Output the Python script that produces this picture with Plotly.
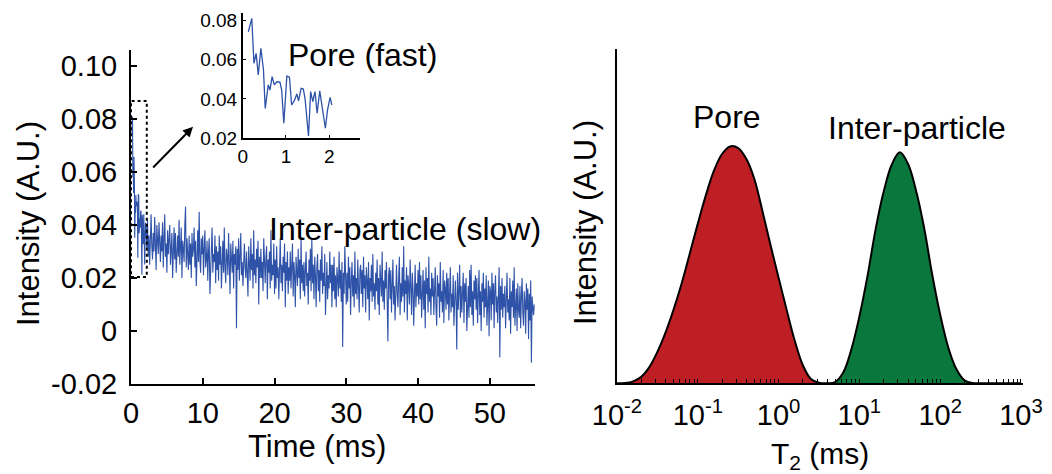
import numpy as np
import plotly.graph_objects as go

W, H = 1052, 474

# ---------------- data ----------------
# early (pore, fast) part of the decay
pore_t = [0.13, 0.21, 0.26, 0.31, 0.36, 0.42, 0.48, 0.52, 0.59, 0.63, 0.68, 0.73,
          0.79, 0.86, 0.90, 0.95, 1.02, 1.08, 1.13, 1.19, 1.25, 1.29, 1.35, 1.40,
          1.44, 1.52, 1.57, 1.62, 1.67, 1.72, 1.78, 1.85, 1.91, 1.96, 2.02, 2.06]
pore_v = [0.0741, 0.0809, 0.0581, 0.0631, 0.0521, 0.0657, 0.0547, 0.0352, 0.0471,
          0.0445, 0.0513, 0.0471, 0.0487, 0.0485, 0.0445, 0.0276, 0.0516, 0.0510,
          0.0369, 0.0390, 0.0425, 0.0390, 0.0454, 0.0450, 0.0402, 0.0212, 0.0437,
          0.0386, 0.0437, 0.0327, 0.0441, 0.0344, 0.0251, 0.0344, 0.0408, 0.0369]

# slow (inter-particle) part, one sample per 0.1 ms from 2.1 ms, in units of 0.001
slow_start, slow_step = 2.1, 0.1
slow_v_milli = [
    39, 31, 42, 28, 36, 25, 38, 44, 32, 27, 37, 30, 43, 33, 23, 40, 35, 29, 41, 31,
    26, 36, 30, 41, 24, 35, 44, 28, 33, 22, 38, 29, 34, 40, 25, 31, 37, 20, 35, 39,
    27, 37, 22, 33, 36, 28, 42, 25, 30, 39, 20, 34, 31, 26, 40, 47, 24, 35, 29, 23,
    36, 25, 33, 20, 37, 28, 31, 39, 24, 34, 17, 32, 38, 26, 45, 27, 22, 35, 29, 36,
    21, 31, 38, 24, 27, 34, 19, 30, 35, 14, 25, 33, 39, 22, 29, 26, 36, 18, 32, 23,
    30, 19, 36, 25, 32, 16, 28, 34, 22, 39, 24, 18, 31, 28, 21, 37, 26, 14, 33, 29,
    22, 34, 16, 29, 25, 32, 1, 31, 23, 35, 19, 28, 37, 21, 26, 17, 30, 33, 24, 20,
    30, 22, 13, 32, 26, 19, 35, 23, 29, 16, 38, 21, 27, 18, 31, 24, 34, 10, 28, 20,
    31, 20, 26, 15, 35, 23, 18, 28, 32, 12, 27, 22, 30, 16, 38, 19, 25, 21, 33, 14,
    27, 16, 32, 20, 24, 12, 29, 35, 18, 25, 15, 28, 22, 33, 9, 26, 19, 30, 14, 24,
    19, 30, 16, 24, 33, 13, 26, 21, 9, 28, 23, 17, 31, 20, 27, 12, 35, 18, 25, 15,
    26, 13, 23, 30, 17, 22, 10, 27, 19, 31, 15, 35, 18, 25, 12, 28, 21, 9, 24, 29,
    15, 23, 11, 27, 19, 32, 14, 22, 17, 29, 6, 24, 26, 12, 21, 16, 30, 18, 25, 9,
    25, 15, 28, 12, 21, 9, 24, 20, 13, 30, 16, 23, 11, 26, -6, 22, 14, 32, 17, 10,
    22, 11, 28, 16, 24, 6, 19, 26, 13, 21, 9, 30, 14, 20, 12, 27, 17, 7, 23, 25,
    14, 23, 9, 28, 16, 21, 7, 24, 19, 12, 26, 4, 20, 15, 25, 11, 29, 13, 18, 8,
    22, 15, 27, 10, 20, 6, 25, 18, 13, 30, 11, 19, 8, 23, 16, 26, 12, -4, 21, 24,
    12, 23, 7, 19, 27, 10, 17, 4, 21, 25, 14, 9, 20, 28, 6, 18, 11, 24, 13, 32,
    7, 19, 14, 24, 4, 21, 17, 10, 27, 12, 6, 22, 16, 2, 20, 25, 9, 18, 13, 23,
    10, 26, 12, 21, 5, 17, 23, 8, 19, 1, 24, 14, 20, 7, 28, 11, 16, 6, 22, 13,
    20, 6, 17, 24, 9, 2, 21, 13, 18, 5, 26, 11, 15, 7, 23, 3, 19, 16, 8, 22,
    10, 20, 4, 17, 24, 7, 14, 9, 21, 2, 16, 19, 11, -7, 22, 8, 15, 25, 5, 17,
    7, 16, 22, 3, 18, 11, 20, 0, 14, 17, 5, 23, 9, 25, 6, 15, 2, 19, 12, 21,
    8, 20, 3, 14, 23, 6, 15, 0, 18, 11, 22, 5, 16, 9, 21, 2, 13, 19, -2, 17,
    15, 4, 22, 10, 18, 1, 16, 21, 7, 13, 3, 19, 24, -10, 17, 8, 20, 5, 14, 9,
    17, 1, 14, 22, 7, 12, 4, 20, -1, 15, 9, 19, 5, 24, 2, 13, 16, 0, 18, 8,
    5, 17, 1, 13, 20, 7, 2, 15, 11, -1, 18, 8, 16, -3, 14, 4, 19, -12, 13, 9,
    6, 10,
]

# T2 distribution (log10 T2 grid from -2.0 to 3.0, step 0.1)
log_t2_start, log_t2_step = -2.0, 0.1
pore_dist = [0.0, 0.001, 0.008, 0.027, 0.068, 0.132, 0.213, 0.31, 0.42, 0.545,
             0.672, 0.792, 0.895, 0.965, 0.997, 0.99, 0.945, 0.86, 0.725, 0.582,
             0.444, 0.309, 0.179, 0.076, 0.018, 0.002,
             0, 0, 0, 0, 0, 0, 0, 0, 0, 0, 0, 0, 0, 0, 0, 0, 0, 0, 0, 0, 0, 0, 0, 0, 0]
inter_dist = [0, 0, 0, 0, 0, 0, 0, 0, 0, 0, 0, 0, 0, 0, 0, 0, 0, 0, 0, 0, 0, 0, 0, 0, 0, 0,
              0.0, 0.005, 0.045, 0.142, 0.281, 0.451, 0.647, 0.806, 0.92, 0.972,
              0.925, 0.813, 0.657, 0.46, 0.289, 0.151, 0.06, 0.013, 0.001,
              0, 0, 0, 0, 0, 0]

left_yticks = [-0.02, 0, 0.02, 0.04, 0.06, 0.08, 0.10]
left_yticktext = ["-0.02", "0", "0.02", "0.04", "0.06", "0.08", "0.10"]
left_xticks = [0, 10, 20, 30, 40, 50]
inset_yticks = [0.02, 0.04, 0.06, 0.08]
inset_yticktext = ["0.02", "0.04", "0.06", "0.08"]
inset_xticks = [0, 1, 2]
right_major_ticks = [0.01, 0.1, 1, 10, 100, 1000]
right_major_text = ["10<sup>-2</sup>", "10<sup>-1</sup>", "10<sup>0</sup>",
                    "10<sup>1</sup>", "10<sup>2</sup>", "10<sup>3</sup>"]
right_minor_mult = [2, 3, 4, 5, 6, 7, 8, 9]

# ---------------- derived ----------------
slow_t = [round(slow_start + slow_step * i, 2) for i in range(len(slow_v_milli))]
slow_v = [v * 0.001 for v in slow_v_milli]
all_t = pore_t + slow_t
all_v = pore_v + slow_v

t2 = [10 ** (log_t2_start + log_t2_step * i) for i in range(len(pore_dist))]
total = [a + b for a, b in zip(pore_dist, inter_dist)]

right_tickvals = list(right_major_ticks)
right_ticktext = list(right_major_text)
for d in right_major_ticks[:-1]:
    for m in right_minor_mult:
        right_tickvals.append(d * m)
        right_ticktext.append("")

BLUE = "#2E52A8"
RED = "#BD1F25"
GREEN = "#0A773C"
FONT = "Liberation Sans, Arial, sans-serif"

def px_x(p):
    return p / W

def px_y(p):
    return 1 - p / H

fig = go.Figure()

fig.add_trace(go.Scatter(x=all_t, y=all_v, mode="lines",
                         line=dict(color=BLUE, width=1.1), xaxis="x", yaxis="y"))
fig.add_trace(go.Scatter(x=pore_t, y=pore_v, mode="lines",
                         line=dict(color=BLUE, width=1.3), xaxis="x2", yaxis="y2"))
fig.add_trace(go.Scatter(x=t2, y=pore_dist, mode="lines", fill="tozeroy",
                         fillcolor=RED, line=dict(width=0, shape="spline", smoothing=1.0),
                         xaxis="x3", yaxis="y3"))
fig.add_trace(go.Scatter(x=t2, y=inter_dist, mode="lines", fill="tozeroy",
                         fillcolor=GREEN, line=dict(width=0, shape="spline", smoothing=1.0),
                         xaxis="x3", yaxis="y3"))
fig.add_trace(go.Scatter(x=t2, y=total, mode="lines",
                         line=dict(color="black", width=2, shape="spline", smoothing=1.0),
                         xaxis="x3", yaxis="y3"))

axis_common = dict(showline=True, linecolor="black", showgrid=False, zeroline=False,
                   ticks="inside", tickcolor="black", mirror=False, automargin=False)

fig.update_layout(
    width=W, height=H, margin=dict(l=0, r=0, t=0, b=0, autoexpand=False),
    paper_bgcolor="white", plot_bgcolor="rgba(0,0,0,0)", showlegend=False,
    font=dict(family=FONT, color="black"),
    xaxis=dict(axis_common, domain=[px_x(131), px_x(535)], range=[0, 56.3],
               tickvals=left_xticks, linewidth=2, ticklen=6, tickwidth=1.5,
               tickfont=dict(size=29), anchor="y", ticklabelstandoff=2),
    yaxis=dict(axis_common, domain=[px_y(384), px_y(50)], range=[-0.02, 0.106],
               tickvals=left_yticks, ticktext=left_yticktext, linewidth=2,
               ticklen=6, tickwidth=1.5, tickfont=dict(size=29), anchor="x",
               ticklabelstandoff=6),
    xaxis2=dict(axis_common, domain=[px_x(242.7), px_x(360)], range=[0, 2.71],
                tickvals=inset_xticks, linewidth=1.5, ticklen=4,
                tickfont=dict(size=19), anchor="y2"),
    yaxis2=dict(axis_common, domain=[px_y(138.3), px_y(13)], range=[0.02, 0.0836],
                tickvals=inset_yticks, ticktext=inset_yticktext, linewidth=1.5,
                ticklen=4, tickfont=dict(size=19), anchor="x2"),
    xaxis3=dict(axis_common, type="log", domain=[px_x(617), px_x(1023)],
                range=[-2.0, 3.025], tickvals=right_tickvals, ticktext=right_ticktext,
                linewidth=2, ticklen=4, tickwidth=1.2, tickfont=dict(size=29),
                anchor="y3", ticklabelstandoff=5),
    yaxis3=dict(showline=True, linecolor="black", linewidth=2, showgrid=False,
                zeroline=False, ticks="", showticklabels=False, automargin=False,
                domain=[px_y(383.3), px_y(49)], range=[0, 1.407], anchor="x3"),
)

# dotted box around the fast part
fig.add_shape(type="rect", xref="x", yref="y", x0=0, x1=2.2, y0=0.0204, y1=0.0868,
              line=dict(color="black", width=2, dash="dot"))

annotations = [
    dict(x=8.64, y=0.077, ax=2.88, ay=0.0611, xref="x", yref="y", axref="x", ayref="y",
         text="", showarrow=True, arrowhead=2, arrowsize=1, arrowwidth=2,
         arrowcolor="black"),
    dict(x=px_x(362), y=px_y(55), text="Pore (fast)", font=dict(size=32)),
    dict(x=px_x(405), y=px_y(229), text="Inter-particle (slow)", font=dict(size=32)),
    dict(x=px_x(727), y=px_y(117), text="Pore", font=dict(size=32)),
    dict(x=px_x(917), y=px_y(128), text="Inter-particle", font=dict(size=32)),
    dict(x=px_x(317), y=px_y(446), text="Time (ms)", font=dict(size=31)),
    dict(x=px_x(820), y=px_y(455), text="T<sub>2</sub> (ms)", font=dict(size=30)),
    dict(x=px_x(28), y=px_y(224), text="Intensity (A.U.)", textangle=-90,
         font=dict(size=31)),
    dict(x=px_x(585), y=px_y(223), text="Intensity (A.U.)", textangle=-90,
         font=dict(size=31)),
]
for a in annotations:
    if "xref" not in a:
        a.update(xref="paper", yref="paper", showarrow=False,
                 xanchor="center", yanchor="middle")
    fig.add_annotation(**a)

fig.write_html("out.html")
